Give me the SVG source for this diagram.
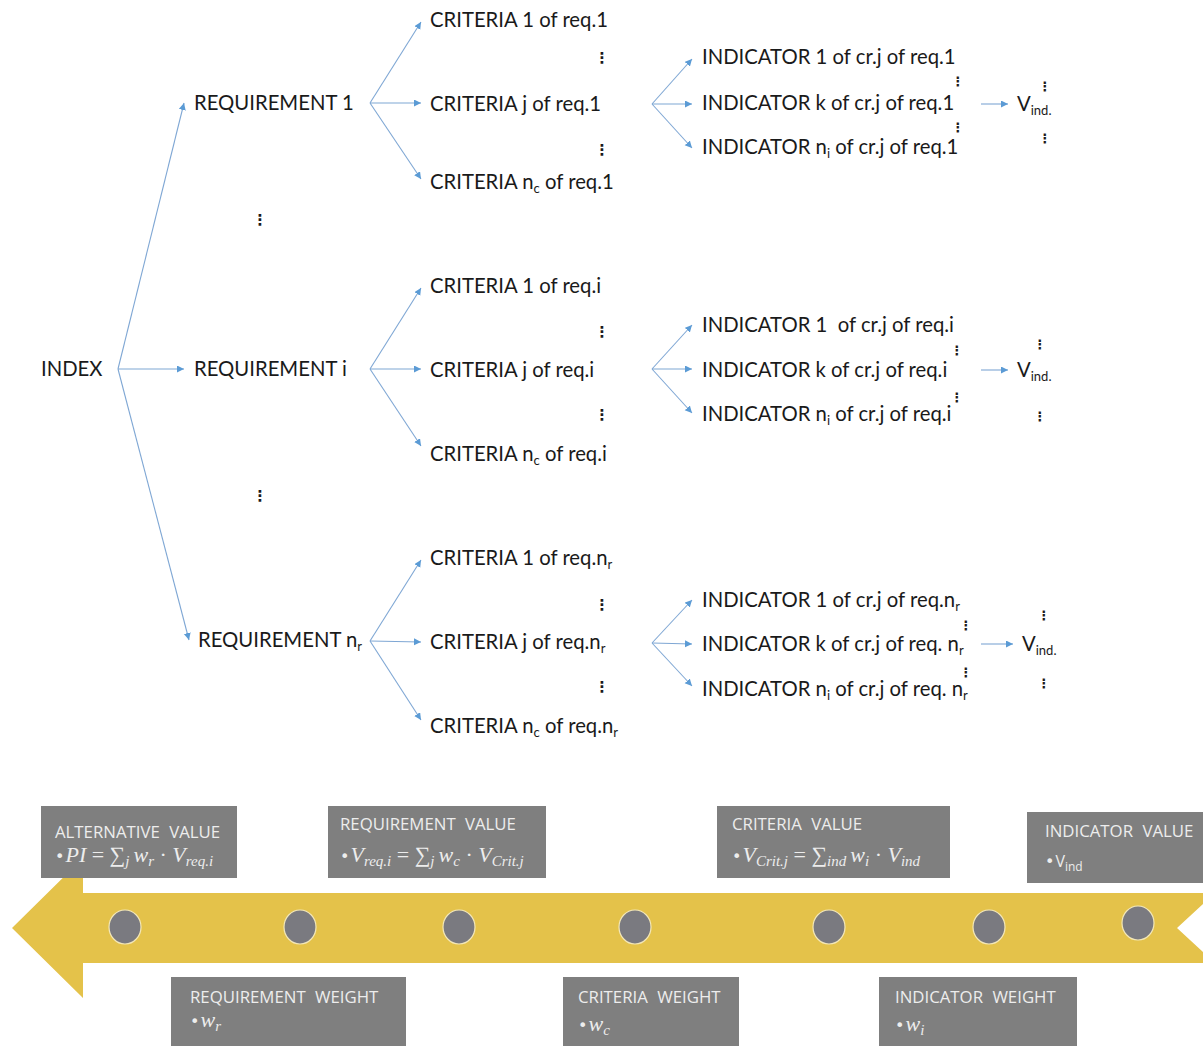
<svg xmlns="http://www.w3.org/2000/svg" width="1203" height="1046" viewBox="0 0 1203 1046">
<style>
.t{font-family:Lato,"Liberation Sans",sans-serif;font-size:20.3px;fill:#1a1a1a}
.d{font-family:"DejaVu Sans",sans-serif;font-size:15px;font-weight:bold;fill:#1a1a1a;text-anchor:middle}
.ds{font-family:"DejaVu Sans",sans-serif;font-size:13px;font-weight:bold;fill:#1a1a1a;text-anchor:middle}
.sub{font-size:13px}
.c{stroke:#7fa7d4;stroke-width:1.1;fill:none;marker-end:url(#ah)}
.box{fill:#7f7f7f}
.bt{font-family:"Open Sans","Noto Sans",sans-serif;font-size:16.8px;fill:#ededed;word-spacing:5px}
.bf{font-family:"Liberation Serif","DejaVu Serif",serif;font-size:22px;fill:#ededed}
.bs{font-family:"Open Sans","Noto Sans",sans-serif;font-size:16px;fill:#ededed}
.bu{font-family:"DejaVu Sans",sans-serif;font-size:16px}
.sb{font-size:15px;font-style:italic}
.it{font-style:italic}
.dot{fill:#7a7a80;stroke:#f3e7b8;stroke-width:1.2}
</style>
<defs>
<marker id="ah" markerUnits="userSpaceOnUse" markerWidth="8" markerHeight="8" refX="7" refY="3.5" orient="auto">
<path d="M0,0 L7,3.5 L0,7 z" fill="#5b9bd5"/>
</marker>
</defs>

<!-- timeline band -->
<g id="band">
<polygon points="12,928 83,858 83,893 1215,893 1177,928 1215,963 83,963 83,998" fill="#e4c24a"/>
<ellipse class="dot" cx="125" cy="927" rx="16" ry="17"/>
<ellipse class="dot" cx="300" cy="927" rx="16" ry="17"/>
<ellipse class="dot" cx="459" cy="927" rx="16" ry="17"/>
<ellipse class="dot" cx="635" cy="927" rx="16" ry="17"/>
<ellipse class="dot" cx="829" cy="927" rx="16" ry="17"/>
<ellipse class="dot" cx="989" cy="927" rx="16" ry="17"/>
<ellipse class="dot" cx="1138" cy="923" rx="16" ry="17"/>
</g>

<g id="box-alt">
<rect class="box" x="41" y="806" width="196" height="72"/>
<text class="bt" x="55" y="838">ALTERNATIVE VALUE</text>
<text class="bf" x="55" y="862"><tspan class="bu">•</tspan><tspan class="it" dx="1">PI</tspan> = ∑<tspan class="sb" dy="4">j</tspan><tspan class="it" dy="-4" dx="4">w</tspan><tspan class="sb" dy="4">r</tspan><tspan dy="-4"> · </tspan><tspan class="it">V</tspan><tspan class="sb" dy="4">req.i</tspan></text>
</g>
<g id="box-req">
<rect class="box" x="328" y="806" width="218" height="72"/>
<text class="bt" x="340" y="830">REQUIREMENT VALUE</text>
<text class="bf" x="340" y="862"><tspan class="bu">•</tspan><tspan class="it" dx="1">V</tspan><tspan class="sb" dy="4">req.i</tspan><tspan dy="-4"> = ∑</tspan><tspan class="sb" dy="4">j</tspan><tspan class="it" dy="-4" dx="4">w</tspan><tspan class="sb" dy="4">c</tspan><tspan dy="-4"> · </tspan><tspan class="it">V</tspan><tspan class="sb" dy="4">Crit.j</tspan></text>
</g>
<g id="box-crit">
<rect class="box" x="717" y="806" width="233" height="72"/>
<text class="bt" x="732" y="830">CRITERIA VALUE</text>
<text class="bf" x="732" y="862"><tspan class="bu">•</tspan><tspan class="it" dx="1">V</tspan><tspan class="sb" dy="4">Crit.j</tspan><tspan dy="-4"> = ∑</tspan><tspan class="sb" dy="4">ind</tspan><tspan class="it" dy="-4" dx="4">w</tspan><tspan class="sb" dy="4">i</tspan><tspan dy="-4"> · </tspan><tspan class="it">V</tspan><tspan class="sb" dy="4">ind</tspan></text>
</g>
<g id="box-ind">
<rect class="box" x="1027" y="812" width="176" height="71"/>
<text class="bt" x="1045" y="837">INDICATOR VALUE</text>
<text class="bs" x="1045" y="867"><tspan class="bu" font-size="13">•</tspan><tspan dx="1">V</tspan><tspan font-size="12" dy="4">ind</tspan></text>
</g>
<g id="box-reqw">
<rect class="box" x="171" y="977" width="235" height="69"/>
<text class="bt" x="190" y="1003">REQUIREMENT WEIGHT</text>
<text class="bf" x="190" y="1027"><tspan class="bu">•</tspan><tspan class="it" dx="1">w</tspan><tspan class="sb" dy="4">r</tspan></text>
</g>
<g id="box-critw">
<rect class="box" x="563" y="977" width="176" height="69"/>
<text class="bt" x="578" y="1003">CRITERIA WEIGHT</text>
<text class="bf" x="578" y="1031"><tspan class="bu">•</tspan><tspan class="it" dx="1">w</tspan><tspan class="sb" dy="4">c</tspan></text>
</g>
<g id="box-indw">
<rect class="box" x="879" y="977" width="198" height="69"/>
<text class="bt" x="895" y="1003">INDICATOR WEIGHT</text>
<text class="bf" x="895" y="1031"><tspan class="bu">•</tspan><tspan class="it" dx="1">w</tspan><tspan class="sb" dy="4">i</tspan></text>
</g>

<!-- connectors -->
<g id="connectors">
<line class="c" x1="118" y1="369" x2="184" y2="103"/>
<line class="c" x1="118" y1="369" x2="184" y2="369"/>
<line class="c" x1="118" y1="369" x2="189" y2="640"/>

<line class="c" x1="370" y1="103" x2="421" y2="22"/>
<line class="c" x1="370" y1="103" x2="421" y2="103"/>
<line class="c" x1="370" y1="103" x2="421" y2="179"/>
<line class="c" x1="652" y1="104" x2="692" y2="59"/>
<line class="c" x1="652" y1="104" x2="692" y2="104"/>
<line class="c" x1="652" y1="104" x2="692" y2="148"/>
<line class="c" x1="981" y1="104" x2="1008" y2="104"/>

<line class="c" x1="370" y1="369" x2="421" y2="288"/>
<line class="c" x1="370" y1="369" x2="421" y2="369"/>
<line class="c" x1="370" y1="369" x2="421" y2="446"/>
<line class="c" x1="652" y1="369" x2="692" y2="325"/>
<line class="c" x1="652" y1="369" x2="692" y2="369"/>
<line class="c" x1="652" y1="369" x2="692" y2="413"/>
<line class="c" x1="981" y1="370" x2="1008" y2="370"/>

<line class="c" x1="370" y1="641" x2="421" y2="560"/>
<line class="c" x1="370" y1="641" x2="421" y2="642"/>
<line class="c" x1="370" y1="641" x2="421" y2="720"/>
<line class="c" x1="652" y1="643" x2="692" y2="600"/>
<line class="c" x1="652" y1="643" x2="692" y2="644"/>
<line class="c" x1="652" y1="643" x2="692" y2="686"/>
<line class="c" x1="981" y1="644" x2="1013" y2="644"/>
</g>

<g id="index"><text class="t" x="41" y="376">INDEX</text></g>
<g id="req1"><text class="t" x="194" y="110">REQUIREMENT 1</text></g>
<g id="reqi"><text class="t" x="194" y="376">REQUIREMENT i</text></g>
<g id="reqnr"><text class="t" x="198" y="647">REQUIREMENT n<tspan class="sub" dy="4">r</tspan></text></g>
<text class="d" x="260" y="225" font-size="17">⋮</text>
<text class="d" x="260" y="501" font-size="17">⋮</text>

<!-- block req 1 -->
<g id="c1-1"><text class="t" x="430" y="27">CRITERIA 1 of req.1</text></g>
<g id="cj-1"><text class="t" x="430" y="111">CRITERIA j of req.1</text></g>
<g id="cn-1"><text class="t" x="430" y="189">CRITERIA n<tspan class="sub" dy="4">c</tspan><tspan dy="-4"> of req.1</tspan></text></g>
<text class="d" x="602" y="63">⋮</text>
<text class="d" x="602" y="155">⋮</text>
<g id="i1-1"><text class="t" x="702" y="64">INDICATOR 1 of cr.j of req.1</text></g>
<g id="ik-1"><text class="t" x="702" y="110">INDICATOR k of cr.j of req.1</text></g>
<g id="in-1"><text class="t" x="702" y="154">INDICATOR n<tspan class="sub" dy="4">i</tspan><tspan dy="-4"> of cr.j of req.1</tspan></text></g>
<text class="ds" x="958" y="86">⋮</text>
<text class="ds" x="958" y="132">⋮</text>
<g id="v-1"><text class="t" x="1017" y="111">V<tspan class="sub" dy="4">ind.</tspan></text></g>
<text class="ds" x="1045" y="91">⋮</text>
<text class="ds" x="1045" y="143">⋮</text>

<!-- block req i -->
<g id="c1-i"><text class="t" x="430" y="293">CRITERIA 1 of req.i</text></g>
<g id="cj-i"><text class="t" x="430" y="377">CRITERIA j of req.i</text></g>
<g id="cn-i"><text class="t" x="430" y="461">CRITERIA n<tspan class="sub" dy="4">c</tspan><tspan dy="-4"> of req.i</tspan></text></g>
<text class="d" x="602" y="337">⋮</text>
<text class="d" x="602" y="420">⋮</text>
<g id="i1-i"><text class="t" x="702" y="332" xml:space="preserve">INDICATOR 1  of cr.j of req.i</text></g>
<g id="ik-i"><text class="t" x="702" y="377">INDICATOR k of cr.j of req.i</text></g>
<g id="in-i"><text class="t" x="702" y="421">INDICATOR n<tspan class="sub" dy="4">i</tspan><tspan dy="-4"> of cr.j of req.i</tspan></text></g>
<text class="ds" x="957" y="355">⋮</text>
<text class="ds" x="957" y="402">⋮</text>
<g id="v-i"><text class="t" x="1017" y="377">V<tspan class="sub" dy="4">ind.</tspan></text></g>
<text class="ds" x="1040" y="349">⋮</text>
<text class="ds" x="1040" y="421">⋮</text>

<!-- block req nr -->
<g id="c1-n"><text class="t" x="430" y="565">CRITERIA 1 of req.n<tspan class="sub" dy="4">r</tspan></text></g>
<g id="cj-n"><text class="t" x="430" y="649">CRITERIA j of req.n<tspan class="sub" dy="4">r</tspan></text></g>
<g id="cn-n"><text class="t" x="430" y="733">CRITERIA n<tspan class="sub" dy="4">c</tspan><tspan dy="-4"> of req.n</tspan><tspan class="sub" dy="4">r</tspan></text></g>
<text class="d" x="602" y="610">⋮</text>
<text class="d" x="602" y="692">⋮</text>
<g id="i1-n"><text class="t" x="702" y="607">INDICATOR 1 of cr.j of req.n<tspan class="sub" dy="4">r</tspan></text></g>
<g id="ik-n"><text class="t" x="702" y="651">INDICATOR k of cr.j of req. n<tspan class="sub" dy="4">r</tspan></text></g>
<g id="in-n"><text class="t" x="702" y="696">INDICATOR n<tspan class="sub" dy="4">i</tspan><tspan dy="-4"> of cr.j of req. n</tspan><tspan class="sub" dy="4">r</tspan></text></g>
<text class="ds" x="966" y="630">⋮</text>
<text class="ds" x="966" y="677">⋮</text>
<g id="v-n"><text class="t" x="1022" y="651">V<tspan class="sub" dy="4">ind.</tspan></text></g>
<text class="ds" x="1044" y="620">⋮</text>
<text class="ds" x="1044" y="688">⋮</text>
</svg>
